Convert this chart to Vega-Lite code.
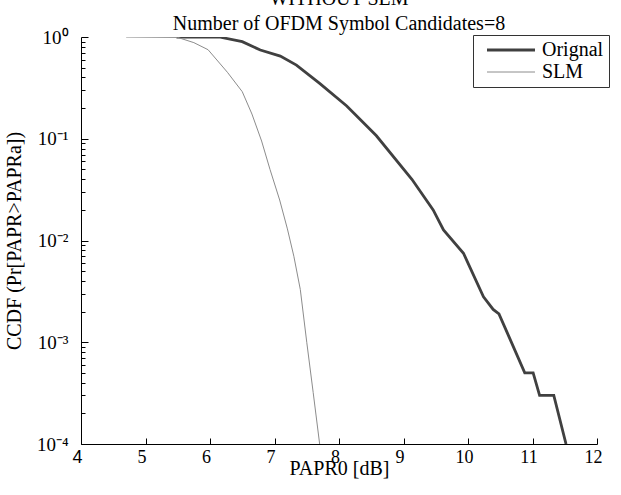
{
  "$schema": "https://vega.github.io/schema/vega-lite/v6.json",
  "width": 516,
  "height": 407,
  "autosize": {"type": "none"},
  "padding": {"left": 81, "top": 37, "right": 24, "bottom": 51},
  "background": "white",
  "config": {
    "view": {"stroke": null},
    "font": "Liberation Serif",
    "axis": {"labelFont": "Liberation Serif", "titleFont": "Liberation Serif"},
    "legend": {"labelFont": "Liberation Serif"}
  },
  "title": {
    "text": ["WITHOUT SLM", "Number of OFDM Symbol Candidates=8"],
    "font": "Liberation Serif",
    "fontSize": 20,
    "fontWeight": "normal",
    "color": "black",
    "lineHeight": 25,
    "offset": -6,
    "anchor": "middle"
  },
  "data": {
    "values": [
      {"series": "Orignal", "papr": 5.48, "ccdf": 1.0},
      {"series": "Orignal", "papr": 6.16, "ccdf": 0.995},
      {"series": "Orignal", "papr": 6.5, "ccdf": 0.9},
      {"series": "Orignal", "papr": 6.78, "ccdf": 0.745},
      {"series": "Orignal", "papr": 7.09, "ccdf": 0.65},
      {"series": "Orignal", "papr": 7.34, "ccdf": 0.53},
      {"series": "Orignal", "papr": 7.7, "ccdf": 0.35},
      {"series": "Orignal", "papr": 8.12, "ccdf": 0.21},
      {"series": "Orignal", "papr": 8.58, "ccdf": 0.107},
      {"series": "Orignal", "papr": 9.13, "ccdf": 0.04},
      {"series": "Orignal", "papr": 9.46, "ccdf": 0.02},
      {"series": "Orignal", "papr": 9.62, "ccdf": 0.0127},
      {"series": "Orignal", "papr": 9.93, "ccdf": 0.0075},
      {"series": "Orignal", "papr": 10.0, "ccdf": 0.006},
      {"series": "Orignal", "papr": 10.24, "ccdf": 0.0028},
      {"series": "Orignal", "papr": 10.39, "ccdf": 0.0021},
      {"series": "Orignal", "papr": 10.48, "ccdf": 0.0019},
      {"series": "Orignal", "papr": 10.65, "ccdf": 0.00108},
      {"series": "Orignal", "papr": 10.88, "ccdf": 0.0005},
      {"series": "Orignal", "papr": 11.01, "ccdf": 0.0005},
      {"series": "Orignal", "papr": 11.11, "ccdf": 0.0003},
      {"series": "Orignal", "papr": 11.33, "ccdf": 0.0003},
      {"series": "Orignal", "papr": 11.52, "ccdf": 0.0001},
      {"series": "SLM", "papr": 4.7, "ccdf": 1.0},
      {"series": "SLM", "papr": 5.5, "ccdf": 0.99},
      {"series": "SLM", "papr": 5.75, "ccdf": 0.88},
      {"series": "SLM", "papr": 5.97, "ccdf": 0.75},
      {"series": "SLM", "papr": 6.27, "ccdf": 0.45},
      {"series": "SLM", "papr": 6.5, "ccdf": 0.29},
      {"series": "SLM", "papr": 6.65, "ccdf": 0.175},
      {"series": "SLM", "papr": 6.8, "ccdf": 0.095},
      {"series": "SLM", "papr": 6.93, "ccdf": 0.05},
      {"series": "SLM", "papr": 7.08, "ccdf": 0.025},
      {"series": "SLM", "papr": 7.2, "ccdf": 0.013},
      {"series": "SLM", "papr": 7.3, "ccdf": 0.007},
      {"series": "SLM", "papr": 7.4, "ccdf": 0.0033},
      {"series": "SLM", "papr": 7.5, "ccdf": 0.001},
      {"series": "SLM", "papr": 7.6, "ccdf": 0.00032},
      {"series": "SLM", "papr": 7.7, "ccdf": 0.0001}
    ]
  },
  "mark": {"type": "line", "clip": true},
  "encoding": {
    "x": {
      "field": "papr",
      "type": "quantitative",
      "scale": {"domain": [4, 12], "nice": false, "zero": false},
      "axis": {
        "title": "PAPR0 [dB]",
        "values": [4, 5, 6, 7, 8, 9, 10, 11, 12],
        "grid": false,
        "domainColor": "black",
        "tickColor": "black",
        "tickSize": -6,
        "labelPadding": 10,
        "labelOffset": -4,
        "labelFont": {"condition": {"test": "datum.value == 4", "value": "Liberation Sans"}, "value": "Liberation Serif"},
        "labelFontSize": 18,
        "labelColor": "black",
        "labelFlush": false,
        "titleFont": "Liberation Serif",
        "titleFontSize": 20,
        "titleFontWeight": "normal",
        "titleColor": "black",
        "titlePadding": -8
      }
    },
    "y": {
      "field": "ccdf",
      "type": "quantitative",
      "scale": {"type": "log", "domain": [0.0001, 1], "nice": false},
      "axis": {
        "title": "CCDF (Pr[PAPR>PAPRa])",
        "values": [0.0001, 0.0002, 0.0003, 0.0004, 0.0005, 0.0006, 0.0007, 0.0008, 0.0009, 0.001, 0.002, 0.003, 0.004, 0.005, 0.006, 0.007, 0.008, 0.009, 0.01, 0.02, 0.03, 0.04, 0.05, 0.06, 0.07, 0.08, 0.09, 0.1, 0.2, 0.3, 0.4, 0.5, 0.6, 0.7, 0.8, 0.9, 1],
        "labelExpr": "datum.value == 1 ? '10⁰' : datum.value == 0.1 ? '10⁻¹' : datum.value == 0.01 ? '10⁻²' : datum.value == 0.001 ? '10⁻³' : datum.value == 0.0001 ? '10⁻⁴' : ''",
        "grid": false,
        "domainColor": "black",
        "tickColor": "black",
        "tickSize": {"condition": {"test": "datum.value == 1 || datum.value == 0.1 || datum.value == 0.01 || datum.value == 0.001 || datum.value == 0.0001", "value": -7}, "value": -4},
        "labelPadding": 20,
        "labelOverlap": false,
        "labelFlush": false,
        "labelBaseline": "middle",
        "labelFont": "Liberation Serif",
        "labelFontSize": 19,
        "labelColor": "black",
        "titleFont": "Liberation Serif",
        "titleFontSize": 20,
        "titleFontWeight": "normal",
        "titleColor": "black",
        "titlePadding": 12
      }
    },
    "color": {
      "field": "series",
      "type": "nominal",
      "scale": {"domain": ["Orignal", "SLM"], "range": ["#404040", "#8c8c8c"]},
      "legend": {
        "title": null,
        "orient": "none",
        "legendX": 392,
        "legendY": -2,
        "symbolType": "M-3,0H3",
        "symbolSize": 256,
        "symbolStrokeWidth": 1.2,
        "symbolStrokeColor": "#333333",
        "symbolFillColor": "transparent",
        "labelFont": "Liberation Serif",
        "labelFontSize": 20,
        "labelColor": "black",
        "labelOffset": 21,
        "rowPadding": 2,
        "padding": 5,
        "symbolOffset": 23,
        "strokeColor": "#333333",
        "fillColor": "white",
        "cornerRadius": 0
      }
    },
    "strokeWidth": {
      "field": "series",
      "type": "nominal",
      "scale": {"domain": ["Orignal", "SLM"], "range": [2.8, 1]},
      "legend": null
    }
  }
}
